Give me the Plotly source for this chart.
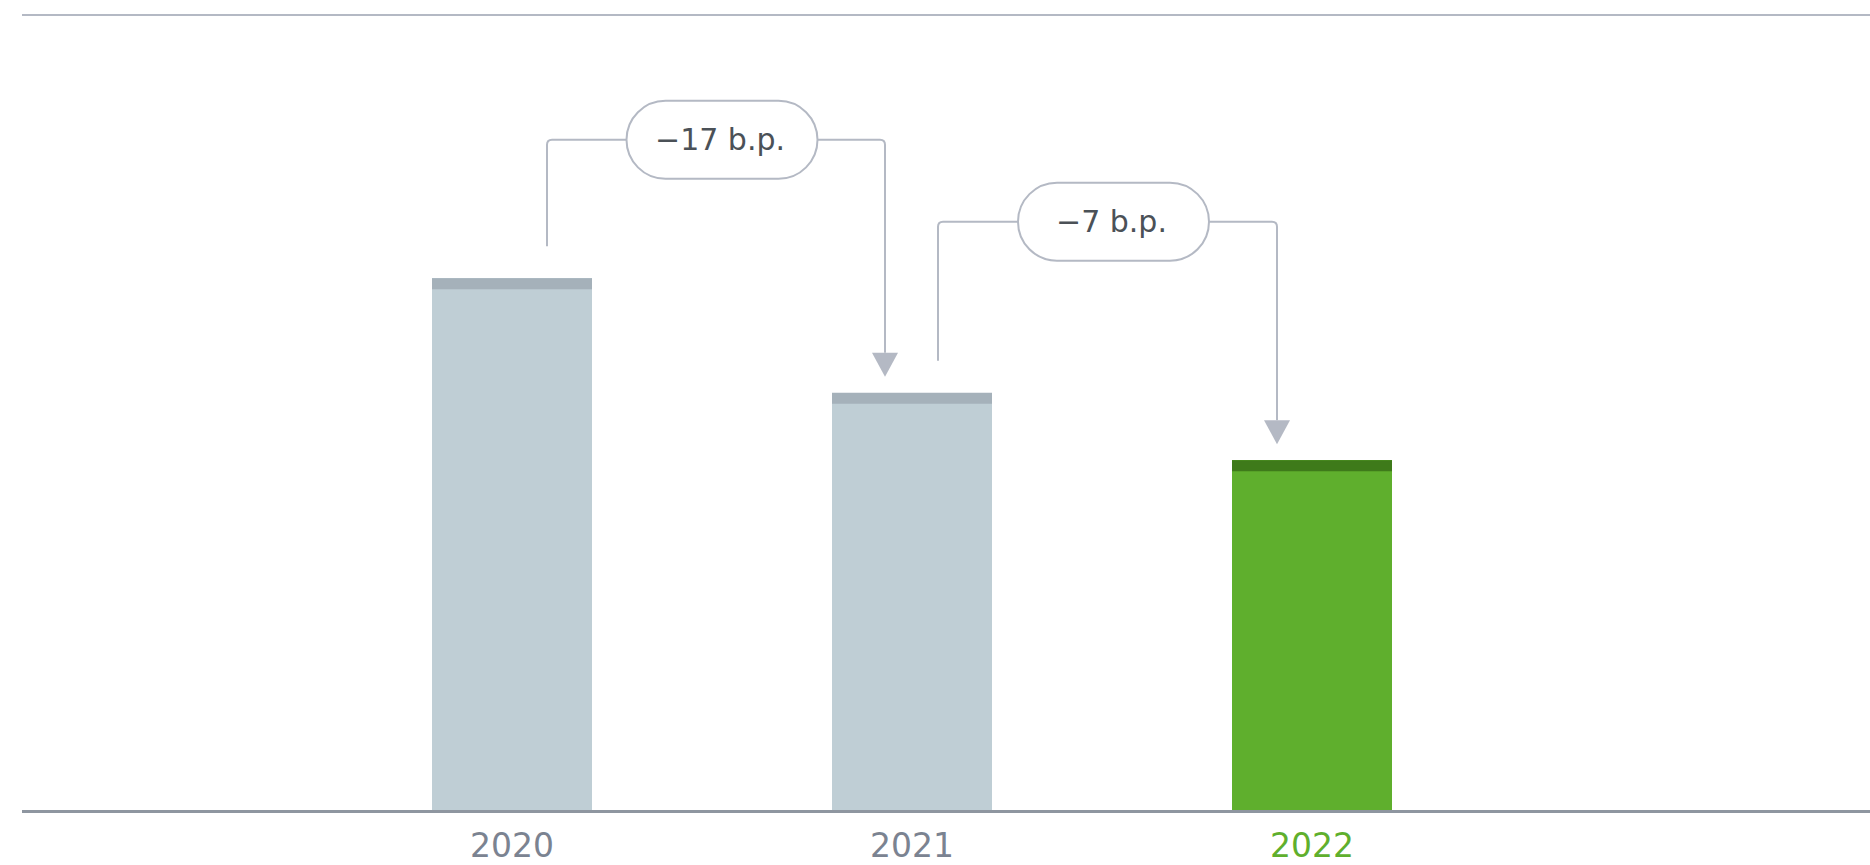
import plotly.graph_objects as go

# ---- data ----
years = ["2020", "2021", "2022"]
values = [66.9, 52.5, 44.0]
bar_colors = ["#BFCED5", "#BFCED5", "#5FAF2D"]
cap_colors = ["#A5B1BA", "#A5B1BA", "#3E7A1A"]
label_colors = ["#7B8391", "#7B8391", "#5FAF2D"]
change_labels = ["\u221217 b.p.", "\u22127 b.p."]
change_levels = [84.3, 74.0]  # connector heights (axis units)

# ---- layout constants ----
W, H = 1870, 865
ML, MR, MT, MB = 22, 0, 15, 55
X_RANGE = [-1.225, 3.395]
Y_RANGE = [0, 100]
plot_w = W - ML - MR
plot_h = H - MT - MB
XPX = (X_RANGE[1] - X_RANGE[0]) / plot_w   # x units per pixel
YPX = (Y_RANGE[1] - Y_RANGE[0]) / plot_h   # y units per pixel
BAR_W = 160 * XPX
LINE_C = "#B4B9C4"
FONT = "DejaVu Sans"

xs = list(range(len(years)))

fig = go.Figure()
fig.add_trace(go.Bar(
    x=xs, y=values, width=BAR_W,
    marker=dict(color=bar_colors, line=dict(width=0)),
    hoverinfo="skip", showlegend=False,
))

shapes = []
# top rule
shapes.append(dict(type="line", xref="paper", yref="paper", x0=0, x1=1, y0=1, y1=1,
                   line=dict(color=LINE_C, width=2)))
# dark caps on bars
for x, v, c in zip(xs, values, cap_colors):
    shapes.append(dict(type="rect", xref="x", yref="y", x0=x - BAR_W / 2, x1=x + BAR_W / 2,
                       ysizemode="pixel", yanchor=v, y0=-11, y1=0,
                       fillcolor=c, line=dict(width=0), layer="above"))

left_off = [35, 26]
right_off = [-27, -35]
annotations = []
for i, (lab, lev) in enumerate(zip(change_labels, change_levels)):
    xl = xs[i] + left_off[i] * XPX
    xr = xs[i + 1] + right_off[i] * XPX
    yl_bot = values[i] + 32 * YPX
    yr_bot = values[i + 1] + 40 * YPX
    rx, ry = 5 * XPX, 5 * YPX
    path = (f"M {xl},{yl_bot} L {xl},{lev - ry} Q {xl},{lev} {xl + rx},{lev} "
            f"L {xr - rx},{lev} Q {xr},{lev} {xr},{lev - ry} L {xr},{yr_bot}")
    shapes.append(dict(type="path", xref="x", yref="y", path=path,
                       line=dict(color=LINE_C, width=2), layer="above"))
    # arrow head
    shapes.append(dict(type="path", xref="x", yref="y", xsizemode="pixel", ysizemode="pixel",
                       xanchor=xr, yanchor=values[i + 1],
                       path="M -13,40 L 13,40 L 0,16 Z",
                       fillcolor=LINE_C, line=dict(width=0), layer="above"))
    # pill
    px_c = (xl + xr) / 2 + 6 * XPX
    hw, r = 56.5, 39
    k = 0.5523 * r
    pill = (f"M {-hw},{r} L {hw},{r} C {hw + k},{r} {hw + r},{k} {hw + r},0 "
            f"C {hw + r},{-k} {hw + k},{-r} {hw},{-r} L {-hw},{-r} "
            f"C {-hw - k},{-r} {-hw - r},{-k} {-hw - r},0 "
            f"C {-hw - r},{k} {-hw - k},{r} {-hw},{r} Z")
    shapes.append(dict(type="path", xref="x", yref="y", xsizemode="pixel", ysizemode="pixel",
                       xanchor=px_c, yanchor=lev, path=pill,
                       fillcolor="white", line=dict(color=LINE_C, width=2), layer="above"))
    annotations.append(dict(x=px_c - 2 * XPX, y=lev, xref="x", yref="y", text=lab, showarrow=False,
                            font=dict(family=FONT, size=30, color="#4B5157"),
                            xanchor="center", yanchor="middle"))

ticktext = [f'<span style="color:{c}">{y}</span>' for y, c in zip(years, label_colors)]

fig.update_layout(
    width=W, height=H,
    margin=dict(l=ML, r=MR, t=MT, b=MB),
    paper_bgcolor="white", plot_bgcolor="white",
    shapes=shapes, annotations=annotations,
    xaxis=dict(range=X_RANGE, tickvals=xs, ticktext=ticktext, showgrid=False, zeroline=False,
               showline=True, linecolor="#8E96A0", linewidth=3, ticks="", ticklabelstandoff=4,
               automargin=False,
               tickfont=dict(family=FONT, size=33, color="#7B8391"), fixedrange=True),
    yaxis=dict(range=Y_RANGE, visible=False, fixedrange=True, automargin=False),
    bargap=0,
)

fig.write_html("out.html", config={"displayModeBar": False},
               post_script="document.body.style.margin='0px';document.body.style.overflow='hidden';")
